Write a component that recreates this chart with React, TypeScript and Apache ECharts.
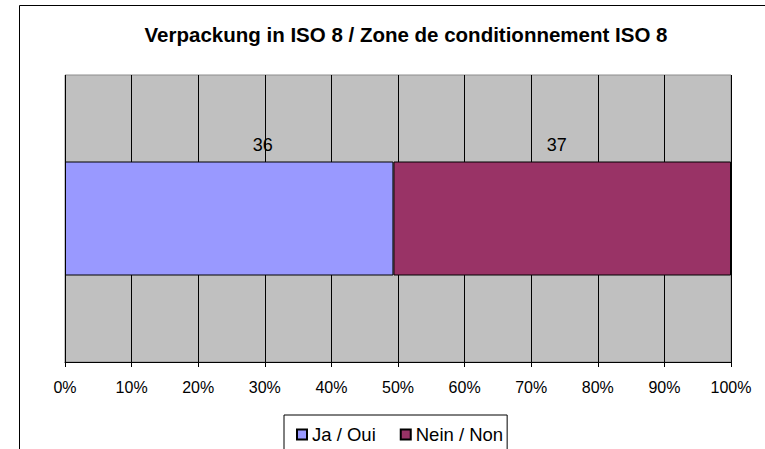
import React, { useEffect, useRef } from "react";
import * as echarts from "echarts";

const categories = ["Verpackung ISO 8"];
const seriesNames = ["Ja / Oui", "Nein / Non"];
const jaValues = [36];
const neinValues = [37];
const tickLabels = ["0%", "10%", "20%", "30%", "40%", "50%", "60%", "70%", "80%", "90%", "100%"];
const titleText = "Verpackung in ISO 8 / Zone de conditionnement ISO 8";

export default function App() {
  const ref = useRef<HTMLDivElement>(null);
  useEffect(() => {
    if (!ref.current) return;
    const chart = echarts.init(ref.current, undefined, { renderer: "svg" });
    const totals = categories.map((_, i) => jaValues[i] + neinValues[i]);
    const pct = (arr: number[]) => arr.map((v, i) => ({ value: (v / totals[i]) * 100, raw: v }));
    const font = "Liberation Sans, Arial, sans-serif";
    chart.setOption({
      animation: false,
      backgroundColor: "#ffffff",
      graphic: [
        {
          type: "rect",
          shape: { x: 19.5, y: 5.5, width: 800, height: 500 },
          style: { fill: "none", stroke: "#000", lineWidth: 1 },
          silent: true,
          z: -1,
        },
      ],
      title: {
        text: titleText,
        left: 401,
        textAlign: "center",
        top: 19,
        textStyle: { fontFamily: font, fontSize: 20.5, fontWeight: "bold", color: "#000" },
      },
      grid: {
        left: 65,
        right: 34,
        top: 75,
        bottom: 87,
        show: true,
        backgroundColor: "#C0C0C0",
        borderColor: "#8c8c8c",
        borderWidth: 1,
      },
      xAxis: {
        type: "value",
        min: 0,
        max: 100,
        interval: 10,
        axisLine: { show: true, lineStyle: { color: "#000", width: 1 } },
        axisTick: { show: true, length: 5, lineStyle: { color: "#000" } },
        splitLine: { show: true, lineStyle: { color: "#000", width: 1 } },
        axisLabel: {
          formatter: (v: number) => tickLabels[Math.round(v / 10)],
          fontFamily: font,
          fontSize: 16,
          color: "#000",
          margin: 17,
        },
      },
      yAxis: {
        type: "category",
        data: categories,
        show: false,
      },
      legend: {
        data: seriesNames,
        left: 284,
        top: 415,
        padding: [10, 4, 20, 12],
        borderColor: "#000",
        borderWidth: 1,
        borderRadius: 0,
        itemWidth: 10,
        itemHeight: 10,
        itemGap: 24,
        icon: "rect",
        textStyle: { fontFamily: font, fontSize: 18.5, color: "#000", padding: [0, 0, 0, 0] },
      },
      series: [
        {
          name: seriesNames[0],
          type: "bar",
          stack: "total",
          barWidth: 114,
          data: pct(jaValues),
          itemStyle: { color: "#9999FF", borderColor: "#000", borderWidth: 1 },
          label: {
            show: true,
            position: "top",
            distance: 7.5,
            offset: [33.5, 0],
            formatter: (p: any) => String(p.data.raw),
            fontFamily: font,
            fontSize: 18,
            color: "#000",
          },
        },
        {
          name: seriesNames[1],
          type: "bar",
          stack: "total",
          barWidth: 114,
          data: pct(neinValues),
          itemStyle: { color: "#993366", borderColor: "#000", borderWidth: 1 },
          label: {
            show: true,
            position: "top",
            distance: 7.5,
            offset: [-5.5, 0],
            formatter: (p: any) => String(p.data.raw),
            fontFamily: font,
            fontSize: 18,
            color: "#000",
          },
        },
      ],
    });
    return () => chart.dispose();
  }, []);
  return (
    <div
      ref={ref}
      style={{ position: "absolute", left: 0, top: 0, width: 765, height: 449 }}
    />
  );
}
